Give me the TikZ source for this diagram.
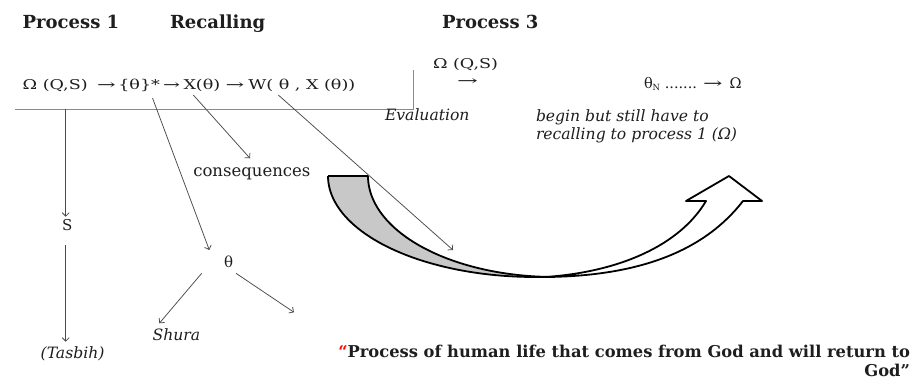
\documentclass[tikz,border=0pt]{standalone}
\usepackage{fontspec}
\setmainfont{DejaVu Serif}
\usetikzlibrary{arrows.meta}
\definecolor{txt}{HTML}{1E1E1E}
\definecolor{ln}{HTML}{4A4A4A}
\definecolor{brk}{HTML}{8A8A8A}
\definecolor{arrfill}{HTML}{C8C8C8}
\newcommand{\longto}[1]{\scalebox{#1}[1]{→}}
\newcommand{\wx}[1]{\scalebox{1.3}[1]{#1}}
\begin{document}
\begin{tikzpicture}[x=1pt,y=-1pt,
  every node/.style={inner sep=0pt, outer sep=0pt, text=txt},
  head/.style={anchor=base west, font=\fontsize{18}{20}\selectfont\bfseries},
  frm/.style={anchor=base west, font=\fontsize{13.5}{16}\selectfont},
  itl/.style={anchor=base west, font=\fontsize{15.6}{18}\selectfont\itshape},
  lbl/.style={anchor=base west, font=\fontsize{16.5}{18}\selectfont},
  sym/.style={anchor=base west, font=\fontsize{15}{17}\selectfont},
  ttl/.style={anchor=base east, font=\fontsize{16.3}{18}\selectfont\bfseries},
  conn/.style={draw=ln, line width=0.75pt, -{Straight Barb[length=3.5pt,width=7pt]}},
  bracket/.style={draw=brk, line width=1.6pt},
  bandline/.style={draw=black, line width=1.8pt, line join=round},
]
\useasboundingbox (0,0) rectangle (914,380);
\fill[white] (0,0) rectangle (914,380);

% headings
\node[head] (p1) at (22.7,28) {Process 1};
\node[head] (rec) at (170,28) {Recalling};
\node[head] (p3) at (442,28) {Process 3};

% formula line
\node[frm] (f1) at (22.7,89) {\wx{Ω (Q,S)}};
\node[frm] (a1) at (97,89) {\longto{1.65}};
\node[frm] (f2) at (118.3,89) {\wx{\{θ\}*}};
\node[frm] (a2) at (163,89) {\longto{1.5}};
\node[frm] (f3) at (183.5,89) {\wx{X(θ)}};
\node[frm] (a3) at (225.5,89) {\longto{1.65}};
\node[frm] (f4) at (248.3,89) {\wx{W( θ , X (θ))}};

% bracket
\coordinate (bL) at (15,109.3);
\coordinate (bC) at (413.3,109.3);
\coordinate (bT) at (413.3,70);
\draw[bracket] (bL) -- (bC) -- (bT);

% process 3 texts
\node[frm] (om) at (433,68.3) {\wx{Ω (Q,S)}};
\node[frm, anchor=center] (a4) at (467.5,81.7) {\longto{1.85}};
\node[sym, font=\fontsize{14.5}{16}\selectfont] (thn) at (644,88) {θ\raisebox{-2pt}{\fontsize{8.5}{9}\selectfont N} ....... \longto{1.6}\, Ω};
\node[itl] (ev) at (385,120) {Evaluation};
\node[itl] (beg1) at (536,121) {begin but still have to};
\node[itl] (beg2) at (536,139.5) {recalling to process 1 (Ω)};

% lower labels
\node[lbl] (cons) at (193.3,176) {consequences};
\node[sym] (S) at (62,230) {S};
\node[sym] (th) at (224,267.7) {θ};
\node[itl] (shura) at (152.7,340) {Shura};
\node[itl] (tas) at (40.7,358) {(Tasbih)};

% title
\node[ttl] (t1) at (910,357.5) {{\color{red}“}Process of human life that comes from God and will return to};
\node[ttl] (t2) at (910,376.5) {God”};

% curved block arrow
\fill[arrfill] plot[domain=0:90,samples=50] ({535-207*cos(\x)},{176+101*sin(\x)})
  -- plot[domain=90:0,samples=50] ({555-187*cos(\x)},{176+101*sin(\x)}) -- cycle;
\draw[bandline] plot[domain=0:90,samples=50] ({535-207*cos(\x)},{176+101*sin(\x)});
\draw[bandline] plot[domain=0:90,samples=50] ({555-187*cos(\x)},{176+101*sin(\x)});
\draw[bandline] (328,176) -- (368,176);
\filldraw[bandline, fill=white] (535,277) .. controls (640,278) and (705,250) .. (743,201)
  -- (762,201) -- (729,176) -- (686,201) -- (706,201)
  .. controls (680,245) and (620,272) .. (545,277) -- cycle;

% connectors
\coordinate (sTop) at (65.7,109.3);
\coordinate (sTip) at (65.7,216.7);
\coordinate (sBot) at (65.7,245);
\coordinate (tasTip) at (65.7,341.7);
\coordinate (f2s) at (152.5,98);
\coordinate (thTip) at (209.3,250);
\coordinate (f3s) at (193.3,95);
\coordinate (consTip) at (250,158.3);
\coordinate (f4s) at (278.3,95);
\coordinate (bandTip) at (453,250);
\coordinate (thL) at (201.7,273.3);
\coordinate (shuraTip) at (159.3,323.3);
\coordinate (thR) at (236,273.3);
\coordinate (rTip) at (294,312.3);

\draw[conn] (sTop) -- (sTip);
\draw[conn] (sBot) -- (tasTip);
\draw[conn] (f2s) -- (thTip);
\draw[conn] (f3s) -- (consTip);
\draw[conn] (f4s) -- (bandTip);
\draw[conn] (thL) -- (shuraTip);
\draw[conn] (thR) -- (rTip);
\end{tikzpicture}
\end{document}
